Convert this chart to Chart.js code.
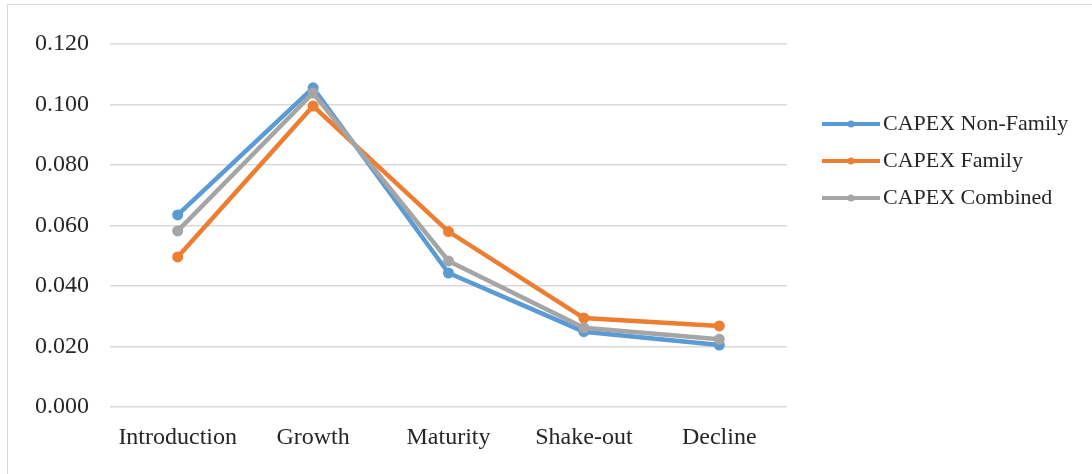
<!DOCTYPE html>
<html>
<head>
<meta charset="utf-8">
<script src="https://cdn.jsdelivr.net/npm/chart.js@4.4.1/dist/chart.umd.min.js"></script>
<style>
  html, body { margin: 0; padding: 0; background: #fff; }
  #wrap { position: relative; width: 1092px; height: 474px; }
  #frame { position: absolute; left: 7px; top: 4px; right: 0; bottom: 0;
           border-left: 1px solid #d9d9d9; border-top: 1px solid #d9d9d9; pointer-events: none; }
  canvas { display: block; }
</style>
</head>
<body>
<div id="wrap">
  <canvas id="c" width="1092" height="474"></canvas>
  <div id="frame"></div>
</div>
<script>
// Life-cycle stages
const stages = ['Introduction', 'Growth', 'Maturity', 'Shake-out', 'Decline'];

// Mean CAPEX ratio per stage
const capexNonFamily = [0.0635, 0.1055, 0.0443, 0.0249, 0.0205];
const capexFamily    = [0.0496, 0.0995, 0.0580, 0.0294, 0.0268];
const capexCombined  = [0.0582, 0.1038, 0.0483, 0.0262, 0.0224];

const seriesNames  = ['CAPEX Non-Family', 'CAPEX Family', 'CAPEX Combined'];
const seriesColors = ['#5b9bd5', '#ed7d31', '#a5a5a5'];

const yTicks = [0, 0.02, 0.04, 0.06, 0.08, 0.10, 0.12];

// Legend swatch: transparent lead-in, then a short line with a marker
function swatch(color) {
  const cv = document.createElement('canvas');
  cv.width = 86; cv.height = 12;
  const g = cv.getContext('2d');
  g.strokeStyle = color; g.lineWidth = 4; g.lineCap = 'butt';
  g.beginPath(); g.moveTo(28, 6); g.lineTo(86, 6); g.stroke();
  g.fillStyle = color;
  g.beginPath(); g.arc(57, 6, 3.5, 0, Math.PI * 2); g.fill();
  return cv;
}

// Give the right-hand legend a fixed width so the plot area ends where intended
const legendWidthPlugin = {
  id: 'legendWidth',
  beforeLayout(chart) {
    const lg = chart.legend;
    if (lg && !lg._fixedWidth) {
      const fit = lg.fit;
      lg.fit = function () { fit.call(this); this.width = 292; };
      lg._fixedWidth = true;
    }
  }
};

const seriesData = [capexNonFamily, capexFamily, capexCombined];
const datasets = seriesData.map((d, i) => ({
  label: seriesNames[i],
  data: d,
  borderColor: seriesColors[i],
  backgroundColor: seriesColors[i],
  borderWidth: 4.5,
  pointRadius: 5.5,
  pointHoverRadius: 6,
  pointBorderWidth: 0,
  tension: 0,
  order: 2 - i
}));

const serif = '"Liberation Serif", "Times New Roman", serif';

new Chart(document.getElementById('c'), {
  type: 'line',
  data: { labels: stages, datasets },
  plugins: [legendWidthPlugin],
  options: {
    responsive: false,
    animation: false,
    layout: { padding: { top: 44, right: 13, bottom: 0, left: 0 } },
    plugins: {
      tooltip: { enabled: false },
      legend: {
        position: 'right',
        align: 'start',
        title: { display: true, text: ' ', padding: { top: 42, bottom: 0 }, font: { size: 10 } },
        labels: {
          font: { family: serif, size: 22 },
          color: '#262626',
          padding: 15,
          usePointStyle: true,
          pointStyleWidth: 70,
          sort: (a, b) => a.datasetIndex - b.datasetIndex,
          generateLabels: (chart) => chart.data.datasets.map((ds, i) => ({
            text: ds.label,
            datasetIndex: i,
            pointStyle: swatch(ds.borderColor),
            fillStyle: ds.borderColor,
            strokeStyle: ds.borderColor,
            lineWidth: 0,
            hidden: false,
            fontColor: '#262626'
          }))
        }
      }
    },
    scales: {
      x: {
        offset: true,
        grid: { display: false },
        border: { display: false },
        ticks: { font: { family: serif, size: 24 }, color: '#262626', padding: 8, maxRotation: 0 },
        afterFit: s => { s.height = 67; }
      },
      y: {
        min: 0, max: 0.12,
        afterBuildTicks: s => { s.ticks = yTicks.map(v => ({ value: v })); },
        grid: { color: '#d9d9d9', lineWidth: 1.5, drawTicks: false },
        border: { display: false },
        ticks: {
          font: { family: serif, size: 24 }, color: '#262626', padding: 21,
          callback: v => v.toFixed(3)
        },
        afterFit: s => { s.width = 110; }
      }
    }
  }
});
</script>
</body>
</html>
